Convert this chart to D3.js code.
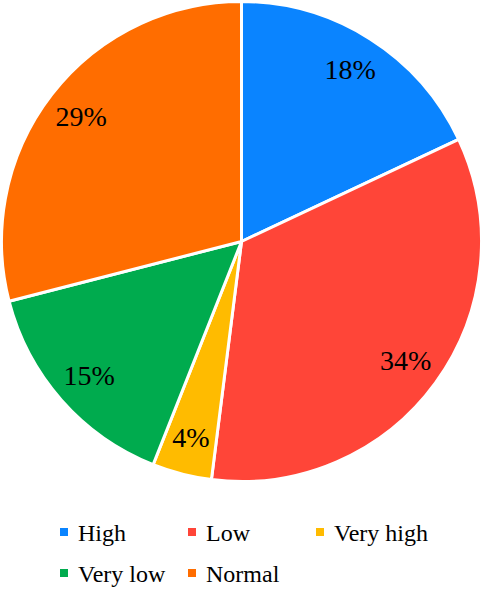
<!DOCTYPE html>
<html>
<head>
<meta charset="utf-8">
<style>
  body { margin: 0; background: #fff; }
  svg { display: block; }
  svg text { font-family: "Liberation Serif", "Times New Roman", Times, serif; }
</style>
</head>
<body>
<div id="pieChart"></div>
<script src="https://d3js.org/d3.v7.min.js"></script>
<script>
// data
var categories = ["High", "Low", "Very high", "Very low", "Normal"];
var values = [18, 34, 4, 15, 29];
var colors = ["#0A84FF", "#FF4538", "#FFBB00", "#00AB4E", "#FF6D00"];

var width = 484, height = 590;
var radius = 240, cx = 241.5, cy = 241.5;

var svg = d3.select("#pieChart")
  .append("svg")
    .attr("width", width)
    .attr("height", height);

var color = d3.scaleOrdinal().domain(categories).range(colors);

var data = categories.map(function(c, i) { return {key: c, value: values[i]}; });

var pie = d3.pie()
  .sort(null)
  .value(function(d) { return d.value; });

var arc = d3.arc().innerRadius(0).outerRadius(radius);
var labelArc = d3.arc().innerRadius(203).outerRadius(203);

var g = svg.append("g")
  .attr("transform", "translate(" + cx + "," + cy + ")");

var slices = pie(data);

g.selectAll("path.slice")
  .data(slices)
  .enter()
  .append("path")
    .attr("class", "slice")
    .attr("d", arc)
    .attr("fill", function(d) { return color(d.data.key); })
    .attr("stroke", "#fff")
    .attr("stroke-width", 3)
    .attr("stroke-linejoin", "round");

g.selectAll("text.pct")
  .data(slices)
  .enter()
  .append("text")
    .attr("class", "pct")
    .attr("transform", function(d) { return "translate(" + labelArc.centroid(d) + ")"; })
    .attr("text-anchor", "middle")
    .attr("dy", "0.33em")
    .attr("font-size", 28)
    .attr("fill", "#000")
    .text(function(d) { return d.data.value + "%"; });

// legend, three per row
var legend = svg.append("g")
  .attr("transform", "translate(60,541)");

var item = legend.selectAll("g.item")
  .data(categories)
  .enter()
  .append("g")
    .attr("class", "item")
    .attr("transform", function(d, i) {
      return "translate(" + (i % 3) * 128 + "," + Math.floor(i / 3) * 41 + ")";
    });

item.append("rect")
  .attr("x", 0)
  .attr("y", -13)
  .attr("width", 8)
  .attr("height", 8)
  .attr("fill", function(d) { return color(d); });

item.append("text")
  .attr("x", 18)
  .attr("y", 0)
  .attr("font-size", 24)
  .attr("fill", "#000")
  .text(function(d) { return d; });
</script>
</body>
</html>
